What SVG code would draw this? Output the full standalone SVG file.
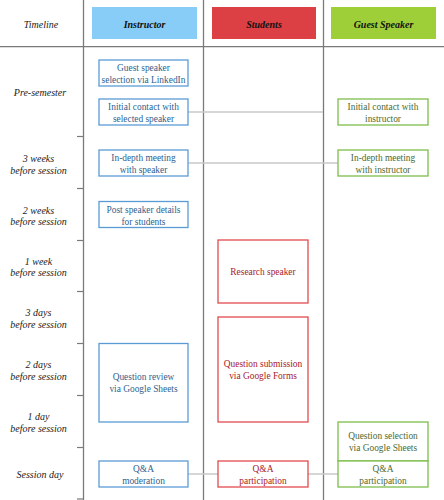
<svg xmlns="http://www.w3.org/2000/svg" width="444" height="500" viewBox="0 0 444 500">
<style>
.tl{font-family:"Liberation Serif",serif;font-style:italic;font-size:10px;fill:#222;text-anchor:middle}
.hd{font-family:"Liberation Serif",serif;font-style:italic;font-weight:bold;font-size:10px;fill:#111;text-anchor:middle}
.bx{font-family:"Liberation Serif",serif;font-size:9.4px;text-anchor:middle}
.ib rect{fill:#fff;stroke:#5B9BD5;stroke-width:1.3}
.ib text{fill:#2F5F8F}
.sb rect{fill:#fff;stroke:#E04B4F;stroke-width:1.3}
.sb text{fill:#A8202A}
.gb rect{fill:#fff;stroke:#7DBE4A;stroke-width:1.3}
.gb text{fill:#4C6B32}
.grid{stroke:#7a7a7a;stroke-width:1.3}
.conn{stroke:#c9c9c9;stroke-width:1.5;fill:none}
</style>
<rect width="444" height="500" fill="#fff"/>
<g id="grid">
<line class="grid" x1="0" y1="46.7" x2="444" y2="46.7"/>
<line class="grid" x1="83.5" y1="0" x2="83.5" y2="500"/>
<line class="grid" x1="203.5" y1="0" x2="203.5" y2="500"/>
<line class="grid" x1="323.5" y1="0" x2="323.5" y2="500"/>
<g stroke="#7a7a7a" stroke-width="1.2">
<line x1="77" y1="136.5" x2="84" y2="136.5"/>
<line x1="77" y1="188.5" x2="84" y2="188.5"/>
<line x1="77" y1="240.5" x2="84" y2="240.5"/>
<line x1="77" y1="291.5" x2="84" y2="291.5"/>
<line x1="77" y1="343.5" x2="84" y2="343.5"/>
<line x1="77" y1="395.5" x2="84" y2="395.5"/>
<line x1="77" y1="447.5" x2="84" y2="447.5"/>
<line x1="77" y1="499" x2="84" y2="499"/>
</g>
</g>
<g id="timeline">
<text class="tl" x="41" y="27.5">Timeline</text>
<text class="tl" x="40" y="96">Pre-semester</text>
<text class="tl" x="38.5" y="161.5">3 weeks</text><text class="tl" x="38.5" y="173.5">before session</text>
<text class="tl" x="38.5" y="213.5">2 weeks</text><text class="tl" x="38.5" y="225">before session</text>
<text class="tl" x="38.5" y="264.5">1 week</text><text class="tl" x="38.5" y="276">before session</text>
<text class="tl" x="38.5" y="316">3 days</text><text class="tl" x="38.5" y="327.5">before session</text>
<text class="tl" x="38.5" y="368">2 days</text><text class="tl" x="38.5" y="380">before session</text>
<text class="tl" x="38.5" y="419.5">1 day</text><text class="tl" x="38.5" y="431.5">before session</text>
<text class="tl" x="40" y="477.5">Session day</text>
</g>
<g id="h-instructor"><rect x="92" y="7" width="105" height="32" fill="#88CDF8"/><text class="hd" x="144.5" y="27.5">Instructor</text></g>
<g id="h-students"><rect x="212" y="7" width="104" height="32" fill="#DC3F44"/><text class="hd" x="264" y="27.5">Students</text></g>
<g id="h-guest"><rect x="331" y="7" width="105" height="32" fill="#9ECF38"/><text class="hd" x="383.5" y="27.5">Guest Speaker</text></g>
<g id="connectors">
<line class="conn" x1="188" y1="112" x2="323" y2="112"/>
<line class="conn" x1="188" y1="163" x2="338" y2="163"/>
<line class="conn" x1="188" y1="474" x2="218" y2="474"/>
<line class="conn" x1="308" y1="474" x2="338" y2="474"/>
</g>
<g id="i1" class="ib bx"><rect x="99" y="60" width="89" height="26"/><text x="143.5" y="71">Guest speaker</text><text x="143.5" y="83">selection via LinkedIn</text></g>
<g id="i2" class="ib bx"><rect x="99" y="99" width="89" height="26"/><text x="143.5" y="110">Initial contact with</text><text x="143.5" y="122">selected speaker</text></g>
<g id="i3" class="ib bx"><rect x="99" y="150" width="89" height="26"/><text x="143.5" y="161">In-depth meeting</text><text x="143.5" y="173">with speaker</text></g>
<g id="i4" class="ib bx"><rect x="99" y="201.5" width="89" height="26"/><text x="143.5" y="213">Post speaker details</text><text x="143.5" y="225">for students</text></g>
<g id="i5" class="ib bx"><rect x="99" y="343.5" width="89" height="78.5"/><text x="143.5" y="380">Question review</text><text x="143.5" y="392">via Google Sheets</text></g>
<g id="i6" class="ib bx"><rect x="99" y="461" width="89" height="26"/><text x="143.5" y="472">Q&amp;A</text><text x="143.5" y="484">moderation</text></g>
<g id="s1" class="sb bx"><rect x="218" y="240" width="90" height="63"/><text x="263" y="275">Research speaker</text></g>
<g id="s2" class="sb bx"><rect x="218" y="317" width="90" height="105"/><text x="263" y="367">Question submission</text><text x="263" y="379">via Google Forms</text></g>
<g id="s3" class="sb bx"><rect x="218" y="461" width="90" height="26"/><text x="263" y="472">Q&amp;A</text><text x="263" y="484">participation</text></g>
<g id="g1" class="gb bx"><rect x="338" y="99" width="90" height="26"/><text x="383" y="110">Initial contact with</text><text x="383" y="122">instructor</text></g>
<g id="g2" class="gb bx"><rect x="338" y="150" width="90" height="26"/><text x="383" y="161">In-depth meeting</text><text x="383" y="173">with instructor</text></g>
<g id="g3" class="gb bx"><rect x="338" y="422" width="90" height="39"/><text x="383" y="439">Question selection</text><text x="383" y="451">via Google Sheets</text></g>
<g id="g4" class="gb bx"><rect x="338" y="461" width="90" height="26"/><text x="383" y="472">Q&amp;A</text><text x="383" y="484">participation</text></g>
</svg>
